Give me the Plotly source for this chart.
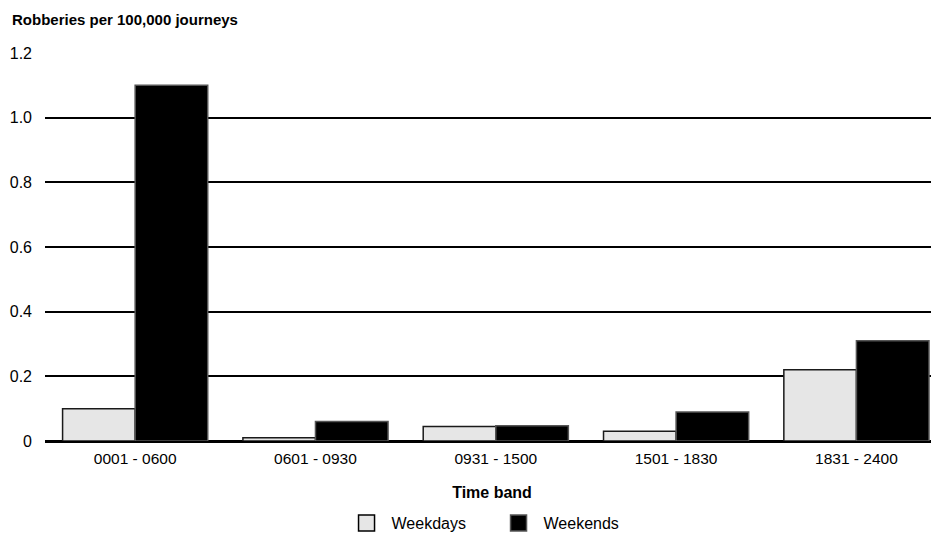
import plotly.graph_objects as go

categories = ["0001 - 0600", "0601 - 0930", "0931 - 1500", "1501 - 1830", "1831 - 2400"]
weekdays = [0.10, 0.01, 0.045, 0.03, 0.22]
weekends = [1.10, 0.06, 0.047, 0.09, 0.31]
tick_vals = [0, 0.2, 0.4, 0.6, 0.8, 1.0, 1.2]
tick_text = ["0", "0.2", "0.4", "0.6", "0.8", "1.0", "1.2"]

font = "Liberation Sans, Arial, sans-serif"

fig = go.Figure()
fig.add_trace(go.Bar(name="Weekdays", x=categories, y=weekdays, showlegend=False,
                     marker=dict(color="#e6e6e6", line=dict(color="#1a1a1a", width=1.5))))
fig.add_trace(go.Bar(name="Weekends", x=categories, y=weekends, showlegend=False,
                     marker=dict(color="#000000", line=dict(color="#555555", width=1.5))))
# legend entries with larger square swatches
fig.add_trace(go.Scatter(name="Weekdays", x=[None], y=[None], mode="markers",
                         marker=dict(symbol="square", size=16, color="#e6e6e6",
                                     line=dict(color="black", width=1.5))))
fig.add_trace(go.Scatter(name="Weekends", x=[None], y=[None], mode="markers",
                         marker=dict(symbol="square", size=16, color="#000000",
                                     line=dict(color="#555555", width=1.5))))

fig.update_layout(
    width=931, height=532,
    margin=dict(l=37, r=0, t=45, b=95),
    paper_bgcolor="white", plot_bgcolor="white",
    barmode="group", bargap=0.195, bargroupgap=0,
    font=dict(family=font, size=15, color="black"),
    title=dict(text="<b>Robberies per 100,000 journeys</b>", x=0.0043, xanchor="left",
               y=0.9774, yanchor="middle",
               font=dict(size=15, family=font, color="black"), automargin=False),
    xaxis=dict(range=[-0.5, 4.458], showgrid=False, showline=False, ticks="", automargin=False,
               tickfont=dict(size=15.5), ticklabelstandoff=6,
               title=dict(text="<b>Time band</b>", font=dict(size=16), standoff=21)),
    yaxis=dict(range=[0, 1.2], tickvals=tick_vals, ticktext=tick_text, showgrid=True,
               gridcolor="black", gridwidth=1.5, zeroline=True, zerolinecolor="black",
               zerolinewidth=3, showline=False, ticks="", automargin=False,
               tickfont=dict(size=16), ticklabelstandoff=12),
    legend=dict(orientation="h", x=0.3317, xanchor="left", y=-0.168, yanchor="top",
                font=dict(size=16), itemsizing="trace", itemwidth=40,
                entrywidth=97, entrywidthmode="pixels"),
    showlegend=True,
)

fig.write_html("out.html")
